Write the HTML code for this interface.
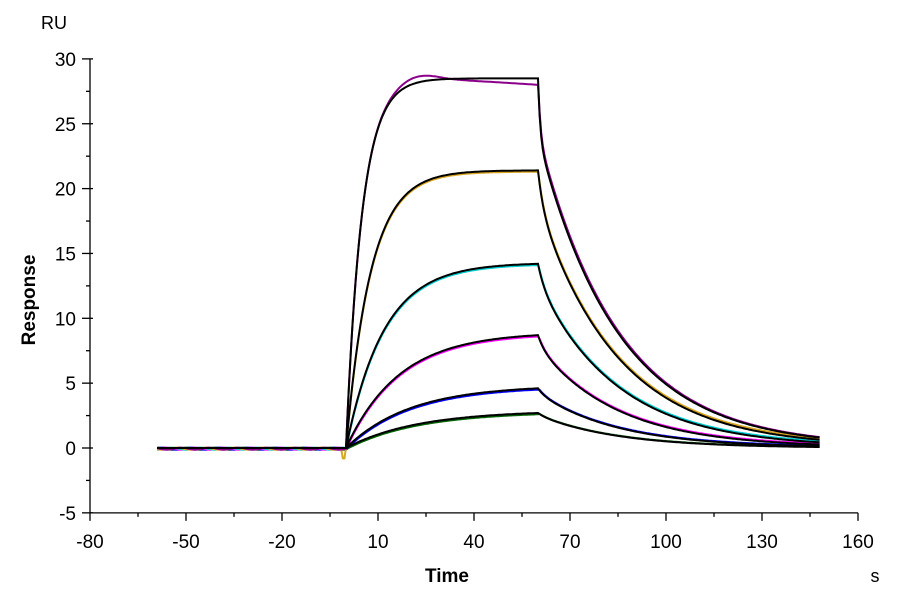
<!DOCTYPE html>
<html><head><meta charset="utf-8"><style>
body{margin:0;background:#fff;}
svg text{font-family:"Liberation Sans",Arial,sans-serif;}
</style></head><body>
<svg id="s" width="900" height="600" xmlns="http://www.w3.org/2000/svg">
<g id="axes" stroke="#000" stroke-width="1.3" fill="none"></g>
<g id="lbl" font-size="19" fill="#000"></g>
<g id="data" fill="none" stroke-width="2"></g>
<g id="fit" fill="none" stroke="#000" stroke-width="2"></g>
<text x="41" y="29" font-size="18">RU</text>
<text x="447" y="582" font-size="19" font-weight="bold" text-anchor="middle">Time</text>
<text x="875" y="582" font-size="18" text-anchor="middle">s</text>
<text transform="translate(35,300) rotate(-90)" font-size="19" font-weight="bold" text-anchor="middle">Response</text>
</svg>
<script>
var X=function(t){return 90+(t+80)*3.2;};
var Y=function(r){return 448-r*12.97;};
var ax=document.getElementById('axes'),lb=document.getElementById('lbl');
var NS='http://www.w3.org/2000/svg';
function el(p,tag,at,txt){var e=document.createElementNS(NS,tag);for(var k in at)e.setAttribute(k,at[k]);if(txt!=null)e.textContent=txt;p.appendChild(e);return e;}
el(ax,'line',{x1:90,y1:Y(30),x2:90,y2:Y(-5)});
el(ax,'line',{x1:90,y1:Y(-5),x2:858,y2:Y(-5)});
for(var v=-5;v<=30;v+=2.5){var maj=(v%5===0);el(ax,'line',{x1:maj?82:86,y1:Y(v),x2:maj?93:90,y2:Y(v)});
 if(maj)el(lb,'text',{x:76,y:Y(v)+7,'text-anchor':'end'},String(v));}
for(var t=-80;t<=160;t+=15){var maj=((t+80)%30===0);el(ax,'line',{x1:X(t),y1:Y(-5),x2:X(t),y2:Y(-5)+(maj?8:4)});
 if(maj)el(lb,'text',{x:X(t),y:548,'text-anchor':'middle'},String(t));}
var R60=[28.5,21.4,14.2,8.7,4.6,2.7],K=[0.2,0.13,0.085,0.06,0.05,0.045],F=[0.16,0.12,0.1,0.1,0.08,0.06],KF=[1.5,0.6,0.5,0.5,0.5,0.5];
var cols=['#8b008b','#daa520','#00ced1','#ff00ff','#0000ff','#006400'];
function model(i,t){if(t<=0)return 0;var req=R60[i]/(1-Math.exp(-K[i]*60));
 if(t<=60)return req*(1-Math.exp(-K[i]*t));var d=t-60;
 return R60[i]*(F[i]*Math.exp(-KF[i]*d)+(1-F[i])*Math.exp(-0.04*d))+0.02*(5-i)*(1-Math.exp(-0.05*d));}
var dg=document.getElementById('data'),fg=document.getElementById('fit');
for(var i=5;i>=0;i--){
 var p='';
 for(var t=-59;t<=148;t+=0.5){var r=model(i,t);
  var dr=r;
  if(t<=0){dr=0.08*Math.sin(t*0.7+i)-0.05;if(i==1&&t>-1.5&&t<=-0.5)dr=-0.8;}
  else if(i==0){dr=r+0.45*Math.exp(-Math.pow((t-22)/8,2))-(t>28&&t<=60?0.5*(t-28)/32:0)+(t>60?0.3*Math.exp(-(t-60)/40):0);}
  else if(t>60){dr=r+0.15*(6-i)/6;}
  else dr=r-0.1;
  p+=(p?'L':'M')+X(t).toFixed(1)+','+Y(dr).toFixed(1);
 }
 el(dg,'path',{d:p,stroke:cols[i]});
}
for(var i=0;i<6;i++){var q='';
 for(var t=-59;t<=148;t+=0.5){q+=(q?'L':'M')+X(t).toFixed(1)+','+Y(model(i,t)).toFixed(1);}
 el(fg,'path',{d:q});}
</script>
</body></html>
